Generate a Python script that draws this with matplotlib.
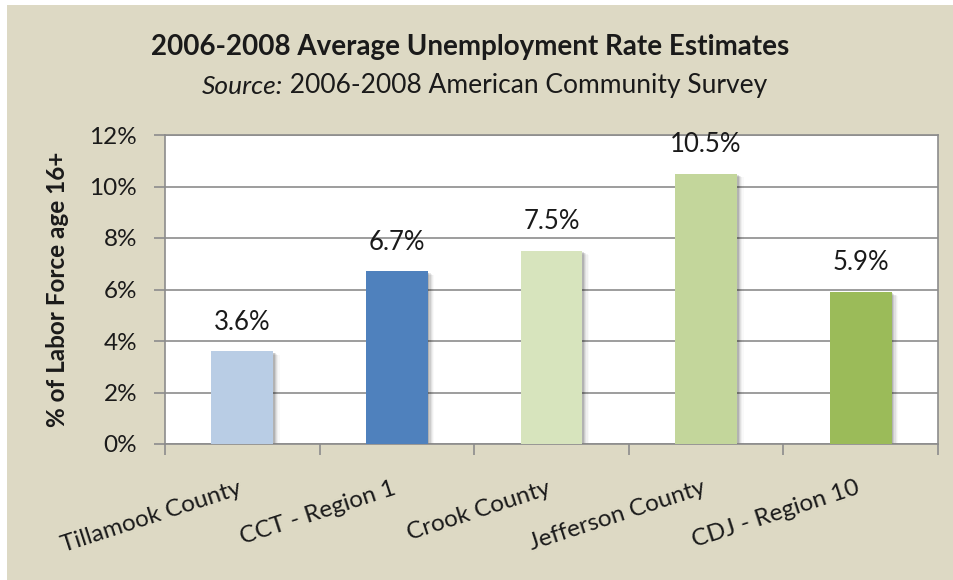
import matplotlib
matplotlib.use("Agg")
import matplotlib.pyplot as plt
from matplotlib.patches import Rectangle
import matplotlib.ticker as mticker

categories = ["Tillamook County", "CCT - Region 1", "Crook County", "Jefferson County", "CDJ - Region 10"]
values = [3.6, 6.7, 7.5, 10.5, 5.9]
labels = ["3.6%", "6.7%", "7.5%", "10.5%", "5.9%"]
colors = ["#b9cde5", "#4f81bd", "#d7e4bd", "#c3d69b", "#9bbb59"]
yticks = [0, 2, 4, 6, 8, 10, 12]

plt.rcParams['font.family'] = ['Lato', 'DejaVu Sans']

W, H = 954, 580
fig = plt.figure(figsize=(W/100, H/100), dpi=100)
fig.patch.set_facecolor("white")
fig.add_artist(Rectangle((7/W, 0), 1, 1 - 5/H, transform=fig.transFigure,
                         facecolor="#ddd9c4", edgecolor="none", zorder=0))

left, right, top, bottom = 165, 938, 135, 444
ax = fig.add_axes([left/W, 1-bottom/H, (right-left)/W, (bottom-top)/H])
ax.set_facecolor("white")
ax.set_xlim(-0.5, len(categories)-0.5)
ax.set_ylim(0, 12)

bw = 0.4
x = list(range(len(categories)))
# shadows
for xi, v in zip(x, values):
    for k, a in enumerate([0.12, 0.09, 0.06, 0.04, 0.025]):
        off = 0.01 + 0.008*k
        ax.add_patch(Rectangle((xi - bw/2 + off, -0.05 - 0.025*k), bw, v, facecolor="#000000",
                               alpha=a, edgecolor="none", zorder=2))
ax.bar(x, values, width=bw, color=colors, zorder=3)

for xi, v, lab in zip(x, values, labels):
    ax.text(xi, v + 1.13, lab, ha="center", va="center", fontsize=18.5, color="#1a1a1a", zorder=4)

ax.set_yticks(yticks)
ax.yaxis.set_major_formatter(mticker.FuncFormatter(lambda v, p: f"{int(v)}%"))
ax.grid(axis="y", color="#8c8c8c", linewidth=1.2, zorder=1)
ax.set_axisbelow(True)
for s in ax.spines.values():
    s.set_color("#8c8c8c")
    s.set_linewidth(1.2)
ax.tick_params(axis="y", length=8, width=1.2, color="#8c8c8c", labelsize=17.5, pad=12, labelcolor="#1a1a1a")
ax.set_xticks([i + 0.5 for i in range(-1, len(categories))])
ax.set_xticklabels([])
ax.tick_params(axis="x", length=8, width=1.2, color="#8c8c8c")
for xi, c in zip(x, categories):
    ax.text(xi - 0.03, -1.3, c, rotation=18, ha="right", va="top", fontsize=17.5,
            color="#1a1a1a", rotation_mode="anchor")

fig.text(58/W, 1 - 289/H, "% of Labor Force age 16+", rotation=90, ha="center", va="center",
         fontsize=17.5, fontweight="bold", color="#1a1a1a")

fig.text(470/W, 1-47/H, "2006-2008 Average Unemployment Rate Estimates", ha="center", va="center",
         fontsize=20, fontweight="bold", color="#1a1a1a")

# subtitle, centred as a whole
t1 = fig.text(0, 1-86/H, "Source:", ha="left", va="center", fontsize=19, style="italic", color="#1a1a1a")
t2 = fig.text(0, 1-86/H, " 2006-2008 American Community Survey", ha="left", va="center",
              fontsize=19, color="#1a1a1a")
r = fig.canvas.get_renderer()
w1 = t1.get_window_extent(r).width
w2 = t2.get_window_extent(r).width
x0 = 485 - (w1 + w2) / 2
t1.set_x(x0 / W)
t2.set_x((x0 + w1) / W)

fig.savefig("out.png", dpi=100, facecolor=fig.get_facecolor())
